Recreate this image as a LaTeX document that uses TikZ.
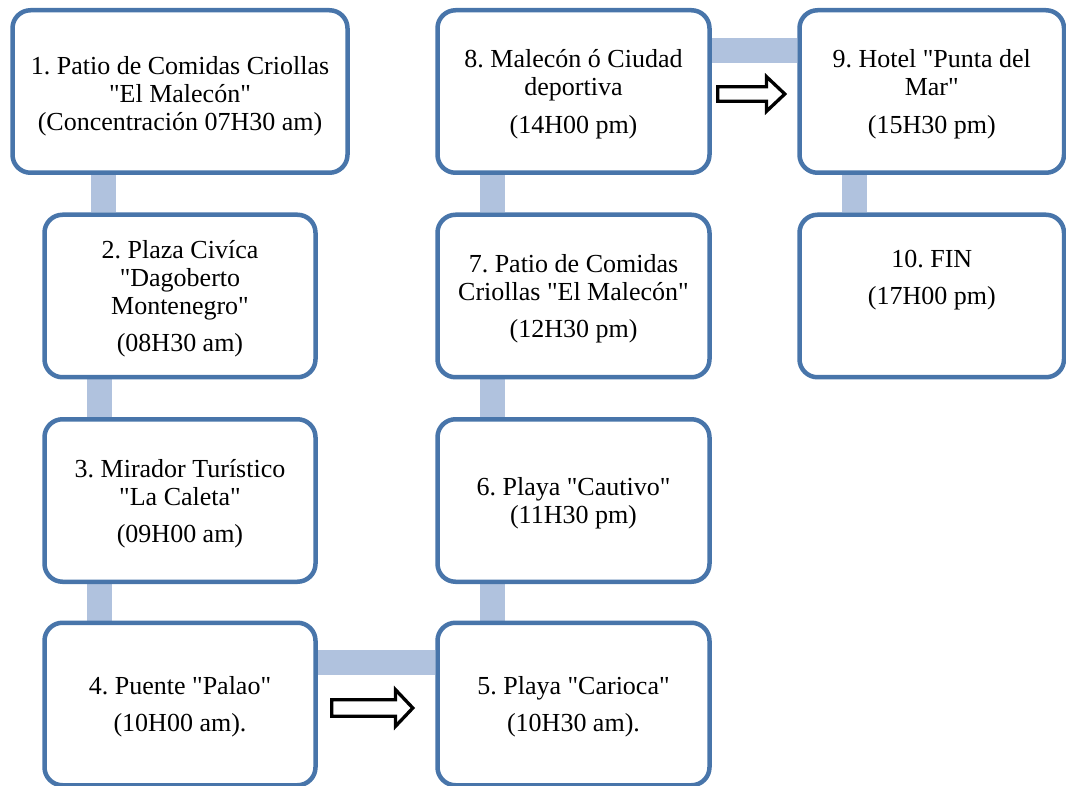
\documentclass[tikz,border=0pt]{standalone}
\usepackage{fontspec}
\newfontfamily\boxfont{Liberation Serif}
\newcommand\topstrut[1][24pt]{\rule{0pt}{#1}}
\definecolor{boxblue}{RGB}{72,117,170}
\definecolor{barblue}{RGB}{176,194,222}
\pgfdeclarelayer{bg}
\pgfsetlayers{bg,main}
\begin{document}
\begin{tikzpicture}[x=1pt,y=-1pt,
  stepbox/.style={draw=boxblue, line width=4.5pt, rounded corners=18pt, fill=white,
    align=center, font=\boxfont\fontsize{26}{28}\selectfont\frenchspacing, inner sep=0pt,
    minimum height=162.5pt},
  colA/.style={stepbox, minimum width=271pt},
  colB/.style={stepbox, minimum width=272pt},
  colC/.style={stepbox, minimum width=264.5pt},
  bar/.style={draw=barblue, line width=25pt},
  blockarrow/.style={draw=black, line width=3.3pt, fill=white, line join=miter}]
\useasboundingbox (0,0) rectangle (1066,786);

\node[stepbox, minimum width=335pt] (b1) at (180,91.5)
  {\topstrut[27pt]1. Patio de Comidas Criollas\\"El Malecón"\\(Concentración 07H30 am)};
\node[colA] (b2) at (180,296)
  {\topstrut2. Plaza Civíca\\"Dagoberto\\Montenegro"\\[9pt](08H30 am)};
\node[colA] (b3) at (180,500.5)
  {\topstrut3. Mirador Turístico\\"La Caleta"\\[9pt](09H00 am)};
\node[colA] (b4) at (180,704)
  {\topstrut4. Puente "Palao"\\[9pt](10H00 am).};
\node[colB] (b5) at (573.5,704)
  {\topstrut5. Playa "Carioca"\\[9pt](10H30 am).};
\node[colB] (b6) at (573.5,500.5)
  {\topstrut6. Playa "Cautivo"\\(11H30 pm)};
\node[colB] (b7) at (573.5,296)
  {\topstrut7. Patio de Comidas\\Criollas "El Malecón"\\[9pt](12H30 pm)};
\node[colB] (b8) at (573.5,91.5)
  {\topstrut8. Malecón ó Ciudad\\deportiva\\[10pt](14H00 pm)};
\node[colC] (b9) at (931.75,91.5)
  {\topstrut9. Hotel "Punta del\\Mar"\\[10pt](15H30 pm)};
\node[colC] (b10) at (931.75,296)
  {\topstrut10. FIN\\[9pt](17H00 pm)\\[15pt]\mbox{}};

\begin{pgfonlayer}{bg}
  \draw[bar] ([xshift=-76.5pt]b1.south) -- ([xshift=-76.5pt]b2.north);
  \draw[bar] ([xshift=-80.5pt]b2.south) -- ([xshift=-80.5pt]b3.north);
  \draw[bar] ([xshift=-80.5pt]b3.south) -- ([xshift=-80.5pt]b4.north);
  \draw[bar] ([yshift=42pt]b4.east) -- ([yshift=42pt]b5.west);
  \draw[bar] ([xshift=-81pt]b5.north) -- ([xshift=-81pt]b6.south);
  \draw[bar] ([xshift=-81pt]b6.north) -- ([xshift=-81pt]b7.south);
  \draw[bar] ([xshift=-81pt]b7.north) -- ([xshift=-81pt]b8.south);
  \draw[bar] ([yshift=41pt]b8.east) -- ([yshift=41pt]b9.west);
  \draw[bar] ([xshift=-77.25pt]b9.south) -- ([xshift=-77.25pt]b10.north);
\end{pgfonlayer}

\draw[blockarrow] (331.7,699.7) -- (395.5,699.7) -- (395.5,689.7) -- (412.8,708)
  -- (395.5,726.3) -- (395.5,716.3) -- (331.7,716.3) -- cycle;
\draw[blockarrow] (717.7,86.7) -- (766.5,86.7) -- (766.5,76.7) -- (784.8,94)
  -- (766.5,111.3) -- (766.5,101.3) -- (717.7,101.3) -- cycle;
\end{tikzpicture}
\end{document}
